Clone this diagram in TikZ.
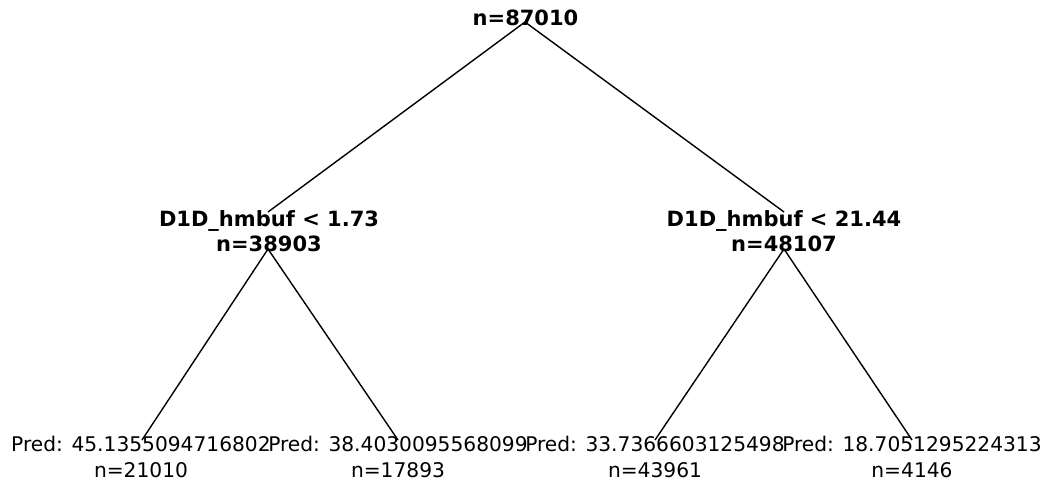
\documentclass[tikz,border=0pt]{standalone}
\usepackage{fontspec}
\setmainfont{DejaVu Sans}
\begin{document}
\begin{tikzpicture}[x=1pt,y=-1pt,
  split/.style={font=\bfseries\fontsize{21}{24.5}\selectfont, align=center, inner sep=0pt},
  leaf/.style={font=\fontsize{20.2}{25.5}\selectfont, align=center, inner sep=0pt},
  edge/.style={draw=black, line width=1.4pt}]
\useasboundingbox (0,0) rectangle (1047,483);

% attachment points of the branches
\coordinate (rootP) at (525,22);
\coordinate (aIn) at (268,212);
\coordinate (aOut) at (268,249);
\coordinate (bIn) at (784,212);
\coordinate (bOut) at (784,249);
\coordinate (l1) at (142,440);
\coordinate (l2) at (398,440);
\coordinate (l3) at (655,440);
\coordinate (l4) at (912,440);

% branches
\draw[edge] (rootP) -- (aIn);
\draw[edge] (rootP) -- (bIn);
\draw[edge] (aOut) -- (l1);
\draw[edge] (aOut) -- (l2);
\draw[edge] (bOut) -- (l3);
\draw[edge] (bOut) -- (l4);

% tree nodes
\node[split] (root) at (525.5,18) {n=87010};
\node[split] (a) at (269,231) {D1D\_hmbuf < 1.73\\n=38903};
\node[split] (b) at (784,231) {D1D\_hmbuf < 21.44\\n=48107};
\node[leaf] (p1) at (141,457) {Pred: 45.1355094716802\\n=21010};
\node[leaf] (p2) at (398,457) {Pred: 38.4030095568099\\n=17893};
\node[leaf] (p3) at (655,457) {Pred: 33.7366603125498\\n=43961};
\node[leaf] (p4) at (912,457) {Pred: 18.7051295224313\\n=4146};
\end{tikzpicture}
\end{document}
